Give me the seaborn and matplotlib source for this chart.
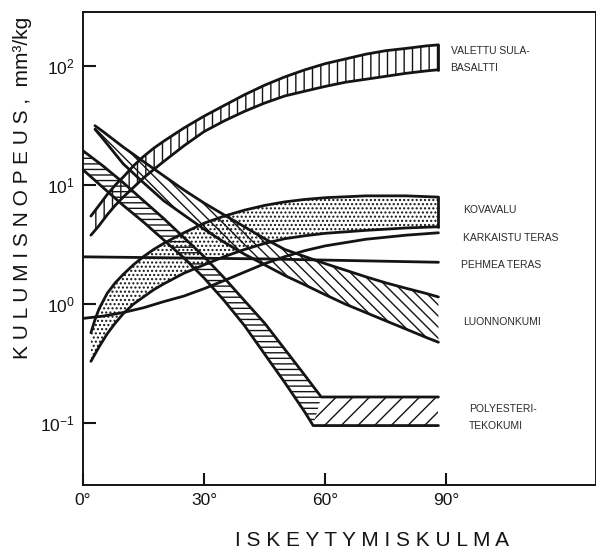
import numpy as np
import matplotlib
matplotlib.use("Agg")
import matplotlib.pyplot as plt
import seaborn as sns
from matplotlib.ticker import NullLocator

# values (x = impact angle in degrees, y = wear rate mm3/kg, log axis)
basalt_x = [2, 4, 6, 8, 10, 12.5, 15, 17.5, 20, 25, 30, 35, 40, 45, 50, 55, 60, 65, 70, 75, 80, 85, 88]
basalt_hi = [5.5, 6.76, 8.32, 10.0, 11.7, 14.5, 17.4, 20.4, 23.4, 30.2, 38.0, 46.8, 57.5, 69.2,
             81.3, 93.3, 105, 115, 126, 135, 141, 148, 151]
basalt_lo = [3.8, 4.57, 5.62, 6.76, 7.94, 9.55, 11.5, 13.5, 15.8, 21.4, 28.2, 34.7, 41.7, 49.0,
             56.2, 61.7, 67.6, 73.3, 77.6, 82.2, 87.1, 91.2, 93.3]

kova_x = [2, 3, 4, 6, 8, 10, 12.5, 15, 17.5, 20, 25, 30, 35, 40, 45, 50, 55, 60, 70, 80, 88]
kova_hi = [0.575, 0.741, 0.912, 1.23, 1.51, 1.78, 2.14, 2.51, 2.88, 3.24, 3.98, 4.79, 5.50, 6.17,
           6.76, 7.24, 7.59, 7.85, 8.13, 8.13, 7.94]
kova_lo = [0.331, 0.380, 0.437, 0.562, 0.692, 0.832, 1.0, 1.15, 1.32, 1.48, 1.82, 2.14, 2.51, 2.88,
           3.24, 3.55, 3.76, 3.94, 4.17, 4.37, 4.47]

karkaistu_x = [0, 5, 10, 15, 20, 25, 30, 35, 40, 45, 50, 55, 60, 70, 80, 88]
karkaistu_y = [0.759, 0.794, 0.851, 0.933, 1.05, 1.17, 1.35, 1.58, 1.86, 2.19, 2.51, 2.82, 3.09,
               3.51, 3.80, 3.98]

pehmea_x = [0, 45, 88]
pehmea_y = [2.5, 2.4, 2.25]

kumi_x = [3, 5, 10, 15, 20, 25, 30, 35, 40, 45, 50, 55, 60, 65, 70, 75, 80, 85, 88]
kumi_hi = [31.6, 28.2, 20.9, 15.8, 12.0, 9.12, 7.08, 5.62, 4.47, 3.55, 2.88, 2.51, 2.19, 1.93,
           1.70, 1.51, 1.36, 1.23, 1.15]
kumi_lo = [29.5, 24.5, 15.1, 10.5, 7.41, 5.62, 4.27, 3.31, 2.63, 2.14, 1.74, 1.45, 1.20, 1.00,
           0.851, 0.724, 0.617, 0.525, 0.479]

poly_x = [0, 5, 10, 15, 20, 25, 30, 35, 40, 45, 50, 55, 57, 59, 88]
poly_hi = [19.5, 14.5, 10.5, 7.41, 5.25, 3.63, 2.51, 1.66, 1.07, 0.692, 0.417, 0.251, 0.204,
           0.166, 0.166]
poly_lo = [13.5, 9.55, 6.76, 4.90, 3.47, 2.45, 1.66, 1.07, 0.661, 0.380, 0.219, 0.123, 0.0955,
           0.0955, 0.0955]

x_ticks = [0, 30, 60, 90]
x_ticklabels = ["0°", "30°", "60°", "90°"]
y_ticks = [0.1, 1, 10, 100]
y_ticklabels = [r"$10^{-1}$", r"$10^{0}$", r"$10^{1}$", r"$10^{2}$"]

labels = ["VALETTU SULA-\nBASALTTI", "KOVAVALU", "KARKAISTU TERAS",
          "PEHMEA TERAS", "LUONNONKUMI", "POLYESTERI-\nTEKOKUMI"]

sns.set_style("ticks")
plt.rcParams["font.family"] = ["Liberation Sans", "DejaVu Sans"]
plt.rcParams["mathtext.default"] = "regular"
plt.rcParams["hatch.linewidth"] = 1.0

ink = "#141414"
lw = 2.0

fig = plt.figure(figsize=(5.96, 5.55), dpi=100)
ax = fig.add_axes([0.139, 0.126, 0.861, 0.852])
ax.set_yscale("log")

# bands
ax.fill_between(basalt_x, basalt_lo, basalt_hi, facecolor="none", edgecolor=ink, hatch="||", linewidth=0)
ax.fill_between(kova_x, kova_lo, kova_hi, facecolor="none", edgecolor=ink, hatch="....", linewidth=0)
ax.fill_between(kumi_x, kumi_lo, kumi_hi, facecolor="none", edgecolor=ink, hatch="\\\\\\", linewidth=0)

# polyester: falling part and flat part hatched differently
desc_x = poly_x[:14] + poly_x[12::-1]
desc_y = poly_hi[:14] + poly_lo[12::-1]
ax.fill(desc_x, desc_y, facecolor="none", edgecolor=ink, hatch="---", linewidth=0)
flat_x = [poly_x[13], poly_x[14], poly_x[14], poly_x[12]]
flat_y = [poly_hi[13], poly_hi[14], poly_lo[14], poly_lo[12]]
ax.fill(flat_x, flat_y, facecolor="none", edgecolor=ink, hatch="//", linewidth=0)

# outlines
for xs, ys in [(basalt_x, basalt_hi), (basalt_x, basalt_lo),
               (kova_x, kova_hi), (kova_x, kova_lo),
               (karkaistu_x, karkaistu_y), (pehmea_x, pehmea_y),
               (kumi_x, kumi_hi), (kumi_x, kumi_lo),
               (poly_x, poly_hi), (poly_x, poly_lo)]:
    sns.lineplot(x=xs, y=ys, ax=ax, color=ink, linewidth=lw, sort=False, estimator=None)

# closed right ends
ax.plot([basalt_x[-1], basalt_x[-1]], [basalt_lo[-1], basalt_hi[-1]], color=ink, lw=lw)
ax.plot([kova_x[-1], kova_x[-1]], [kova_lo[-1], kova_hi[-1]], color=ink, lw=lw)

# material names
label_pos = [(91, 113), (94, 6.17), (94, 3.59), (93.5, 2.13), (94, 0.706), (95.5, 0.112)]
for txt, (lx, ly) in zip(labels, label_pos):
    ax.text(lx, ly, txt, fontsize=7.5, color="#2a2a2a", ha="left", va="center", linespacing=1.9)

ax.set_xlim(0, 127)
ax.set_ylim(0.0302, 284)
ax.set_xticks(x_ticks)
ax.set_xticklabels(x_ticklabels, fontsize=12.5)
ax.set_yticks(y_ticks)
ax.set_yticklabels(y_ticklabels, fontsize=12.5)
ax.yaxis.set_minor_locator(NullLocator())
ax.tick_params(axis="both", direction="in", length=9, width=1.5, color=ink, labelcolor=ink, pad=6)
for s in ax.spines.values():
    s.set_linewidth(1.4)
    s.set_color(ink)
ax.set_xlabel("")
ax.set_ylabel("")

fig.text(0.624, 0.027, " ".join("ISKEYTYMISKULMA"), fontsize=15, color=ink, ha="center", va="center")
fig.text(0.037, 0.661, " ".join("KULUMISNOPEUS,") + "  mm³/kg", fontsize=15, color=ink,
         rotation=90, ha="center", va="center")

fig.savefig("out.png", dpi=100, facecolor="white")
